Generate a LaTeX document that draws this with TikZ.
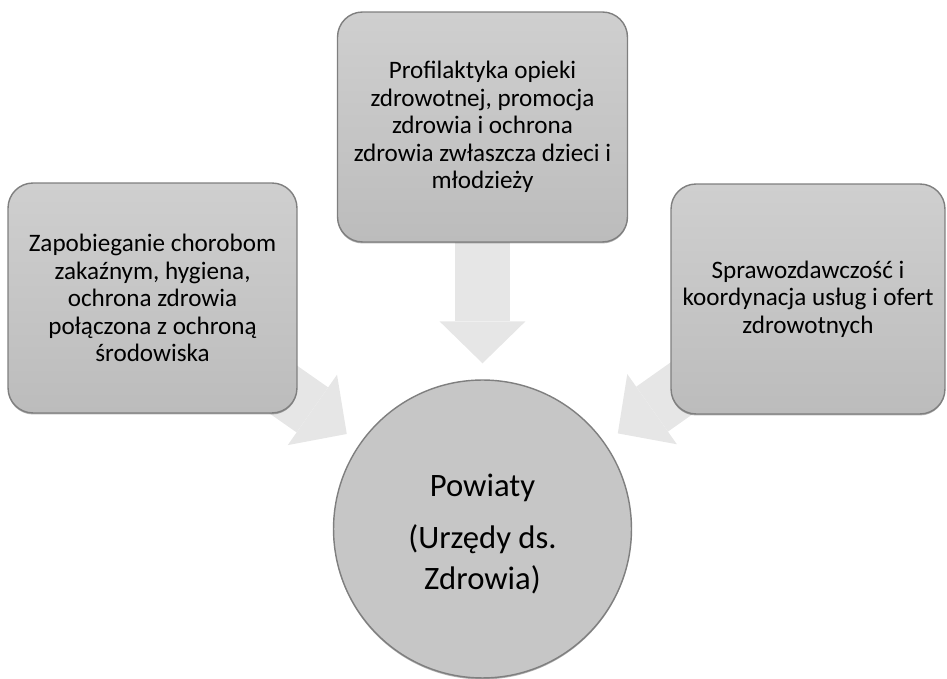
\documentclass[tikz,border=0pt]{standalone}
\usepackage{fontspec}
\setmainfont{Carlito}
\usepackage{tikz}
\usetikzlibrary{arrows.meta,backgrounds,shadows}

\definecolor{boxtop}{HTML}{CFCFCF}
\definecolor{boxbot}{HTML}{BCBCBC}
\definecolor{circfill}{HTML}{C6C6C6}
\definecolor{arrowgray}{HTML}{E6E6E6}
\definecolor{edgegray}{HTML}{7F7F7F}

\tikzset{
  taskbox/.style={rectangle, rounded corners=0.5cm, draw=edgegray, line width=0.8pt,
    top color=boxtop, bottom color=boxbot, minimum height=4.6cm, align=center,
    inner xsep=1pt, font=\fontsize{14.3}{15.7}\selectfont,
    drop shadow={shadow xshift=0pt, shadow yshift=-0.03cm, opacity=0.3, fill=black}},
  hubcircle/.style={circle, draw=edgegray, line width=0.8pt, fill=circfill,
    minimum size=5.96cm, align=center, font=\fontsize{18.6}{23.6}\selectfont,
    drop shadow={shadow xshift=0pt, shadow yshift=-0.03cm, opacity=0.3, fill=black}},
  fatarrow/.style={draw=arrowgray, line width=1.1cm,
    -{Triangle[length=0.84cm, width=1.72cm, line width=0pt]}, shorten >=0.32cm}
}

\begin{document}
\begin{tikzpicture}[x=0.02cm,y=0.02cm]
\useasboundingbox (0,0) rectangle (947,679);

% three task boxes
\node[taskbox, minimum width=5.78cm] (hygiene) at (152.5,381)
  {Zapobieganie chorobom\\zakaźnym, hygiena,\\ochrona zdrowia\\połączona z ochroną\\środowiska};
\node[taskbox, minimum width=5.8cm] (prevention) at (482.5,552)
  {Profilaktyka opieki\\zdrowotnej, promocja\\zdrowia i ochrona\\zdrowia zwłaszcza dzieci i\\młodzieży};
\node[taskbox, minimum width=5.48cm] (reporting) at (808,380)
  {Sprawozdawczość i\\koordynacja usług i ofert\\zdrowotnych};

% hub
\node[hubcircle] (powiaty) at (482.5,150) {\rule{0pt}{19pt}Powiaty\\[0.2cm](Urzędy ds.\\Zdrowia)};

% arrows behind everything
\begin{scope}[on background layer]
\draw[fatarrow] (hygiene.center) -- (powiaty);
\draw[fatarrow] (prevention.center) -- (powiaty);
\draw[fatarrow] (reporting.center) -- (powiaty);
\end{scope}

\end{tikzpicture}
\end{document}
